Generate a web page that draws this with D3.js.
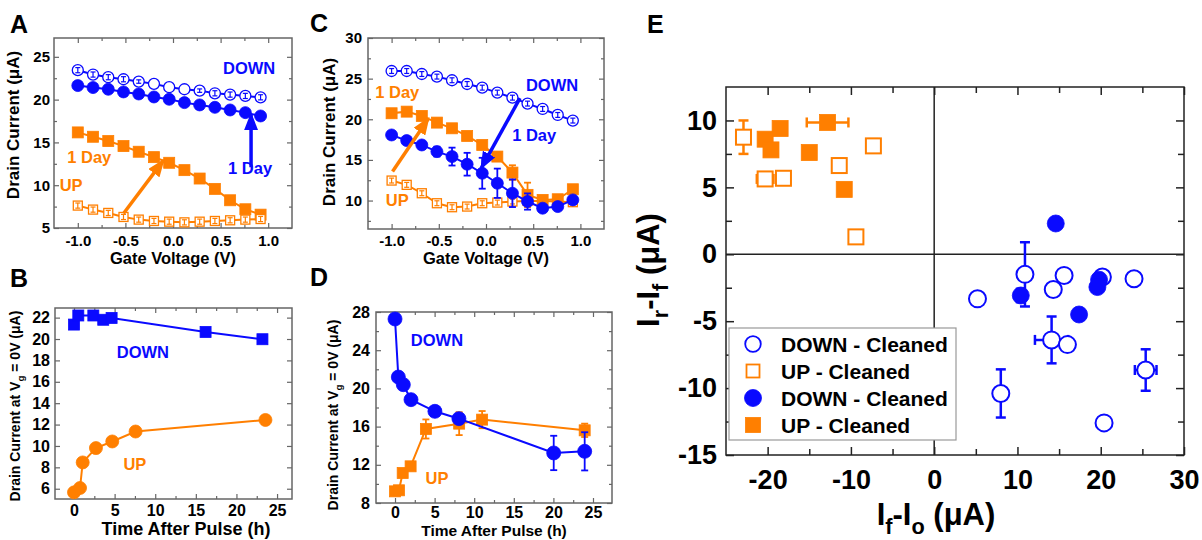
<!DOCTYPE html>
<html><head><meta charset="utf-8">
<script src="https://cdn.jsdelivr.net/npm/d3@7"></script>
<style>
body{margin:0;background:#fff}
svg{display:block}
text{font-family:"Liberation Sans",Arial,sans-serif;font-weight:bold}
</style>
</head><body>
<svg id="c" width="1202" height="540"></svg>
<script>
// ---------- DATA ----------
// Panels A and C: gate voltage sweep
const voltage = [-1, -0.84, -0.68, -0.52, -0.36, -0.2, -0.04, 0.12, 0.28, 0.44, 0.6, 0.76, 0.92];
const aDownBefore = [23.44, 22.93, 22.62, 22.38, 22.11, 21.84, 21.45, 21.21, 21.05, 20.74, 20.59, 20.43, 20.27];
const aDownBeforeErr = [0.3, 0.3, 0.3, 0.3, 0.2, 0, 0, 0, 0.2, 0.3, 0.3, 0.3, 0.3];
const aDown1Day = [21.64, 21.41, 21.21, 20.9, 20.66, 20.31, 20.04, 19.65, 19.38, 19.1, 18.79, 18.48, 18.09];
const aUp1Day = [16.17, 15.66, 15.16, 14.57, 13.91, 13.28, 12.62, 11.76, 10.78, 9.57, 8.24, 7.19, 6.56];
const aUpBefore = [7.62, 7.15, 6.76, 6.29, 5.98, 5.82, 5.74, 5.66, 5.74, 5.82, 5.9, 5.98, 6.05];
const aUpBeforeErr = [0.3, 0.3, 0.3, 0.3, 0.3, 0.3, 0.3, 0.3, 0.3, 0.3, 0.3, 0.3, 0.3];

const cDownBefore = [25.94, 25.94, 25.57, 25.25, 24.8, 24.34, 23.89, 23.28, 22.66, 21.93, 21.27, 20.53, 19.84];
const cDownBeforeErr = [0.3, 0.3, 0.3, 0.3, 0.3, 0.3, 0.3, 0.3, 0.3, 0.3, 0.3, 0.3, 0.3];
const cDown1Day = [18.07, 17.38, 16.84, 16.02, 15.41, 14.47, 13.36, 12.13, 10.9, 9.88, 9.06, 9.26, 10.08];
const cDown1DayErr = [0.3, 0.3, 0.3, 0.6, 1.1, 1.4, 1.9, 1.8, 1.7, 1.0, 0.3, 0.3, 0.3];
const cUp1Day = [20.74, 20.94, 20.41, 19.59, 18.89, 17.95, 16.84, 15.41, 13.44, 10.7, 10.08, 10.16, 11.39];
const cUp1DayErr = [0.5, 0.3, 0.3, 0.3, 0.3, 0.3, 0.4, 0.5, 0.9, 1.5, 0.3, 0.3, 0.3];
const cUpBefore = [12.46, 11.93, 10.9, 9.67, 9.18, 9.26, 9.67, 9.75, 9.88, 9.96, 9.96, 9.88, 9.8];
const cUpBeforeErr = [0.3, 0.3, 0.3, 0.3, 0.3, 0.3, 0.3, 0.3, 0.3, 0.3, 0.3, 0.3, 0.3];

// Panel B: time after pulse
const bDownHours = [0, 0.53, 2.38, 3.6, 4.63, 16.2, 23.2];
const bDown = [21.35, 22.2, 22.2, 21.8, 21.97, 20.66, 19.98];
const bUpHours = [0, 0.74, 1.07, 2.7, 4.71, 7.58, 23.57];
const bUp = [5.66, 6.07, 8.46, 9.8, 10.42, 11.35, 12.43];

// Panel D: time after pulse
const dDownHours = [0, 0.42, 1.05, 2.02, 5.04, 8.07, 20.04, 23.95];
const dDown = [27.27, 21.19, 20.39, 18.82, 17.6, 16.83, 13.24, 13.41];
const dDownErr = [0, 0, 0, 0, 0, 0.5, 1.8, 2.0];
const dUpHours = [0, 0.5, 0.97, 1.97, 3.9, 8.1, 11.0, 23.95];
const dUp = [9.22, 9.33, 11.14, 11.84, 15.75, 16.31, 16.73, 15.61];
const dUpErr = [0, 0, 0, 0, 1.0, 1.2, 0.9, 0.7];

// Panel E: If-Io vs Ir-If
const eDownOpenX = [5.2, 10.9, 15.6, 14.3, 20.2, 24, 14.1, 16, 8, 25.4, 20.4];
const eDownOpenY = [-3.33, -1.5, -1.58, -2.63, -1.7, -1.83, -6.4, -6.75, -10.4, -8.65, -12.6];
const eDownOpenXErr = [0, 0.3, 0.4, 0.3, 0.3, 0.3, 2, 0.3, 0.3, 1.3, 0.3];
const eDownOpenYErr = [0, 2.4, 0.2, 0.4, 0.2, 0.3, 1.75, 0.3, 1.8, 1.55, 0.4];
const eUpOpenX = [-22.9, -20.3, -18.1, -11.4, -7.3, -9.4];
const eUpOpenY = [8.75, 5.63, 5.68, 6.63, 8.1, 1.3];
const eUpOpenXErr = [0.4, 1.0, 0.5, 0.5, 0.3, 0.4];
const eUpOpenYErr = [1.25, 0.2, 0.3, 0.5, 0.5, 0.3];
const eDownFillX = [14.6, 10.4, 19.8, 19.6, 17.4];
const eDownFillY = [2.3, -3.08, -1.9, -2.45, -4.5];
const eDownFillXErr = [0.3, 0.3, 0.3, 0.3, 0.3];
const eDownFillYErr = [0.2, 0.5, 0.3, 0.3, 0.3];
const eUpFillX = [-20.3, -19.6, -18.5, -15, -12.8, -10.8];
const eUpFillY = [8.6, 7.8, 9.4, 7.6, 9.85, 4.85];
const eUpFillXErr = [0.3, 0.3, 0.3, 0.3, 2.5, 0.3];
const eUpFillYErr = [0.3, 0.3, 0.4, 0.3, 0.2, 0.3];
const legendLabels = ["DOWN - Cleaned", "UP - Cleaned", "DOWN - Cleaned", "UP - Cleaned"];

// Tick values
const gateTicks = [-1, -0.5, 0, 0.5, 1.0];
const gateMinor = [-0.75, -0.25, 0.25, 0.75];
const aYTicks = [5, 10, 15, 20, 25];
const aYMinor = [7.5, 12.5, 17.5, 22.5];
const cYTicks = [10, 15, 20, 25, 30];
const cYMinor = [7.5, 12.5, 17.5, 22.5, 27.5];
const hourTicks = [0, 5, 10, 15, 20, 25];
const hourMinor = [2.5, 7.5, 12.5, 17.5, 22.5];
const bYTicks = [6, 8, 10, 12, 14, 16, 18, 20, 22];
const dYTicks = [8, 12, 16, 20, 24, 28];
const dYMinor = [10, 14, 18, 22, 26];
const eXTicks = [-20, -10, 0, 10, 20, 30];
const eXMinor = [-15, -5, 5, 15, 25];
const eYTicks = [-15, -10, -5, 0, 5, 10];
const eYMinor = [-12.5, -7.5, -2.5, 2.5, 7.5];

// ---------- DRAWING ----------
const BLUE = "#0a0aff", ORANGE = "#ff7f00";
const svg = d3.select("#c");

const defs = svg.append("defs");
[["arB", BLUE], ["arO", ORANGE]].forEach(([id, c]) => {
  defs.append("marker").attr("id", id).attr("viewBox", "0 0 18 14")
    .attr("markerUnits", "userSpaceOnUse").attr("markerWidth", 18).attr("markerHeight", 14)
    .attr("refX", 16).attr("refY", 7).attr("orient", "auto")
    .append("path").attr("d", "M0,0 L18,7 L0,14 z").attr("fill", c);
});

function panel(o) {
  const x = d3.scaleLinear().domain(o.xd).range([o.left, o.right]);
  const y = d3.scaleLinear().domain(o.yd).range([o.bottom, o.top]);
  const g = svg.append("g");
  const add = (gen, tx, ty) => {
    const a = g.append("g").attr("transform", `translate(${tx},${ty})`).call(gen);
    a.select(".domain").remove();
    a.attr("font-family", null).attr("font-size", null);
    a.selectAll("line").attr("stroke", o.frame).attr("stroke-width", o.tw);
    a.selectAll("text").attr("fill", "#000").style("font-size", o.tf + "px");
    return a;
  };
  const none = () => "";
  add(d3.axisBottom(x).tickValues(o.xMajor).tickSize(-o.tl).tickPadding(o.xPad).tickFormat(o.fx), 0, o.bottom);
  add(d3.axisBottom(x).tickValues(o.xMinor).tickSize(-o.tlm).tickFormat(none), 0, o.bottom);
  add(d3.axisTop(x).tickValues(o.xMajor).tickSize(-o.tl).tickFormat(none), 0, o.top);
  add(d3.axisTop(x).tickValues(o.xMinor).tickSize(-o.tlm).tickFormat(none), 0, o.top);
  add(d3.axisLeft(y).tickValues(o.yMajor).tickSize(-o.tl).tickPadding(o.yPad).tickFormat(o.fy), o.left, 0);
  add(d3.axisLeft(y).tickValues(o.yMinor).tickSize(-o.tlm).tickFormat(none), o.left, 0);
  add(d3.axisRight(y).tickValues(o.yMajor).tickSize(-o.tl).tickFormat(none), o.right, 0);
  add(d3.axisRight(y).tickValues(o.yMinor).tickSize(-o.tlm).tickFormat(none), o.right, 0);
  g.append("rect").attr("x", o.left).attr("y", o.top).attr("width", o.right - o.left)
    .attr("height", o.bottom - o.top).attr("fill", "none").attr("stroke", o.frame).attr("stroke-width", o.fw);
  return { g, x, y };
}

function series(p, xs, ys, o) {
  const pts = xs.map((v, i) => ({ x: v, y: ys[i], ye: o.yErr ? o.yErr[i] : 0, xe: o.xErr ? o.xErr[i] : 0 }));
  if (o.line) {
    p.g.append("path").datum(pts)
      .attr("d", d3.line().x(d => p.x(d.x)).y(d => p.y(d.y)))
      .attr("fill", "none").attr("stroke", o.color).attr("stroke-width", o.lw);
  }
  const drawErr = () => {
    const eg = p.g.append("g").attr("stroke", o.color).attr("stroke-width", o.ew);
    pts.forEach(d => {
      const cx = p.x(d.x), cy = p.y(d.y);
      if (d.ye > 0) {
        const y1 = p.y(d.y - d.ye), y2 = p.y(d.y + d.ye);
        eg.append("line").attr("x1", cx).attr("x2", cx).attr("y1", y1).attr("y2", y2);
        eg.append("line").attr("x1", cx - o.cap).attr("x2", cx + o.cap).attr("y1", y1).attr("y2", y1);
        eg.append("line").attr("x1", cx - o.cap).attr("x2", cx + o.cap).attr("y1", y2).attr("y2", y2);
      }
      if (d.xe > 0) {
        const x1 = p.x(d.x - d.xe), x2 = p.x(d.x + d.xe);
        eg.append("line").attr("x1", x1).attr("x2", x2).attr("y1", cy).attr("y2", cy);
        eg.append("line").attr("x1", x1).attr("x2", x1).attr("y1", cy - o.cap).attr("y2", cy + o.cap);
        eg.append("line").attr("x1", x2).attr("x2", x2).attr("y1", cy - o.cap).attr("y2", cy + o.cap);
      }
    });
  };
  if (!o.errTop) drawErr();
  const mg = p.g.append("g");
  const fill = o.filled ? o.color : "#fff";
  if (o.shape === "circle") {
    mg.selectAll("circle").data(pts).join("circle")
      .attr("cx", d => p.x(d.x)).attr("cy", d => p.y(d.y)).attr("r", o.size)
      .attr("fill", fill).attr("stroke", o.color).attr("stroke-width", o.filled ? 0.8 : o.sw);
  } else {
    mg.selectAll("rect").data(pts).join("rect")
      .attr("x", d => p.x(d.x) - o.size).attr("y", d => p.y(d.y) - o.size)
      .attr("width", 2 * o.size).attr("height", 2 * o.size)
      .attr("fill", fill).attr("stroke", o.color).attr("stroke-width", o.filled ? 0.8 : o.sw);
  }
  if (o.errTop) drawErr();
}

function label(p, x, y, txt, color, size) {
  p.g.append("text").attr("x", p.x(x)).attr("y", p.y(y)).attr("dy", "0.35em")
    .attr("text-anchor", "middle").attr("fill", color).style("font-size", size + "px").text(txt);
}
function arrow(p, x1, y1, x2, y2, color, id) {
  p.g.append("line").attr("x1", p.x(x1)).attr("y1", p.y(y1)).attr("x2", p.x(x2)).attr("y2", p.y(y2))
    .attr("stroke", color).attr("stroke-width", 3.5).attr("marker-end", `url(#${id})`);
}
function richText(parent, parts, size) {
  const t = parent;
  let shifted = false;
  parts.forEach(([s, sub]) => {
    const ts = t.append("tspan").text(s);
    if (sub && !shifted) { ts.attr("dy", size * 0.28).style("font-size", (size * 0.7) + "px"); shifted = true; }
    else if (!sub && shifted) { ts.attr("dy", -size * 0.28); shifted = false; }
  });
}
function title(x, y, parts, size, rot) {
  const t = svg.append("text").attr("text-anchor", "middle").style("font-size", size + "px")
    .attr("transform", `translate(${x},${y})${rot ? " rotate(-90)" : ""}`).attr("fill", "#000");
  richText(t, parts, size);
}
function letter(x, y, s) {
  svg.append("text").attr("x", x).attr("y", y).style("font-size", "25px").attr("fill", "#000").text(s);
}

const fmt1 = d => d.toFixed(1);
const fmt0 = d => String(d);
const small = { frame: "#666", fw: 1.5, tw: 1.2, tl: 5, tlm: 3, tf: 15 };

// ----- Panel A -----
const A = panel(Object.assign({}, small, { left: 54, right: 292, top: 38, bottom: 228, xd: [-1.25, 1.25], yd: [5, 27.2],
  xMajor: gateTicks, xMinor: gateMinor, yMajor: aYTicks, yMinor: aYMinor, fx: fmt1, fy: fmt0, xPad: 7, yPad: 4 }));
series(A, voltage, aDownBefore, { color: BLUE, shape: "circle", filled: false, size: 5.5, sw: 1.3, line: true, lw: 2, yErr: aDownBeforeErr, ew: 1.2, cap: 2.5, errTop: true });
series(A, voltage, aDown1Day, { color: BLUE, shape: "circle", filled: true, size: 6, line: true, lw: 2 });
series(A, voltage, aUp1Day, { color: ORANGE, shape: "square", filled: true, size: 5.5, line: true, lw: 2 });
series(A, voltage, aUpBefore, { color: ORANGE, shape: "square", filled: false, size: 4.5, sw: 1.3, line: true, lw: 2, yErr: aUpBeforeErr, ew: 1.2, cap: 2.5, errTop: true });
arrow(A, -0.52, 6.7, -0.1, 12.9, ORANGE, "arO");
arrow(A, 0.82, 12.1, 0.82, 18.3, BLUE, "arB");
label(A, 0.8, 23.7, "DOWN", BLUE, 16.5);
label(A, -0.88, 13.3, "1 Day", ORANGE, 16.5);
label(A, -1.07, 10.0, "UP", ORANGE, 16.5);
label(A, 0.81, 12.0, "1 Day", BLUE, 16.5);
title(173, 264, [["Gate Voltage (V)"]], 16.5, false);
title(19, 125, [["Drain Current (μA)"]], 17, true);

// ----- Panel C -----
const C = panel(Object.assign({}, small, { left: 368, right: 604, top: 38, bottom: 229, xd: [-1.25, 1.25], yd: [6.5, 30],
  xMajor: gateTicks, xMinor: gateMinor, yMajor: cYTicks, yMinor: cYMinor, fx: fmt1, fy: fmt0, xPad: 6, yPad: 6 }));
series(C, voltage, cDownBefore, { color: BLUE, shape: "circle", filled: false, size: 5.5, sw: 1.3, line: true, lw: 2, yErr: cDownBeforeErr, ew: 1.2, cap: 2.5, errTop: true });
series(C, voltage, cUpBefore, { color: ORANGE, shape: "square", filled: false, size: 4.5, sw: 1.3, line: true, lw: 2, yErr: cUpBeforeErr, ew: 1.2, cap: 2.5, errTop: true });
series(C, voltage, cUp1Day, { color: ORANGE, shape: "square", filled: true, size: 5.5, line: true, lw: 2, yErr: cUp1DayErr, ew: 1.8, cap: 3.5 });
series(C, voltage, cDown1Day, { color: BLUE, shape: "circle", filled: true, size: 6, line: true, lw: 2, yErr: cDown1DayErr, ew: 1.8, cap: 3.5 });
arrow(C, -0.99, 13.57, -0.61, 20.1, ORANGE, "arO");
arrow(C, 0.36, 22.6, -0.05, 14.0, BLUE, "arB");
label(C, -0.94, 23.3, "1 Day", ORANGE, 16.5);
label(C, 0.70, 24.2, "DOWN", BLUE, 16.5);
label(C, 0.51, 18.05, "1 Day", BLUE, 16.5);
label(C, -0.94, 10.06, "UP", ORANGE, 16.5);
title(486, 264, [["Gate Voltage (V)"]], 16.5, false);
title(335, 132, [["Drain Current (μA)"]], 17, true);

// ----- Panel B -----
const B = panel(Object.assign({}, small, { left: 55, right: 292, top: 308, bottom: 499, xd: [-2.34, 26.84], yd: [5.04, 22.9],
  xMajor: hourTicks, xMinor: hourMinor, yMajor: bYTicks, yMinor: [], fx: fmt0, fy: fmt0, xPad: 6, yPad: 5, tf: 16 }));
series(B, bDownHours, bDown, { color: BLUE, shape: "square", filled: true, size: 5.5, line: true, lw: 2 });
series(B, bUpHours, bUp, { color: ORANGE, shape: "circle", filled: true, size: 6.5, line: true, lw: 2 });
label(B, 8.48, 18.74, "DOWN", BLUE, 16.5);
label(B, 7.5, 8.3, "UP", ORANGE, 16.5);
title(186, 535, [["Time After Pulse (h)"]], 18, false);
title(20, 406, [["Drain Current at V"], ["g", true], [" = 0V (μA)"]], 14, true);

// ----- Panel D -----
const D = panel(Object.assign({}, small, { left: 376, right: 612, top: 312, bottom: 503, xd: [-2.4, 27.4], yd: [8, 28],
  xMajor: hourTicks, xMinor: hourMinor, yMajor: dYTicks, yMinor: dYMinor, fx: fmt0, fy: fmt0, xPad: 4, yPad: 6, tf: 16 }));
series(D, dUpHours, dUp, { color: ORANGE, shape: "square", filled: true, size: 5.5, line: true, lw: 2, yErr: dUpErr, ew: 1.8, cap: 3.5 });
series(D, dDownHours, dDown, { color: BLUE, shape: "circle", filled: true, size: 7, line: true, lw: 2, yErr: dDownErr, ew: 1.8, cap: 3.5 });
label(D, 5.3, 25.07, "DOWN", BLUE, 16.5);
label(D, 5.3, 10.6, "UP", ORANGE, 16.5);
title(494, 536, [["Time After Pulse (h)"]], 15.5, false);
title(338, 415, [["Drain Current at V"], ["g", true], [" = 0V (μA)"]], 14, true);

// ----- Panel E -----
const E = panel({ frame: "#222", fw: 1.5, tw: 1.5, tl: 8, tlm: 6, tf: 27,
  left: 726, right: 1184, top: 87, bottom: 455, xd: [-25, 30], yd: [-15, 12.5],
  xMajor: eXTicks, xMinor: eXMinor, yMajor: eYTicks, yMinor: eYMinor, fx: fmt0, fy: fmt0, xPad: 15, yPad: 9 });
E.g.append("line").attr("x1", E.x(0)).attr("x2", E.x(0)).attr("y1", E.y(12.5)).attr("y2", E.y(-15)).attr("stroke", "#222").attr("stroke-width", 1.5);
E.g.append("line").attr("x1", E.x(-25)).attr("x2", E.x(30)).attr("y1", E.y(0)).attr("y2", E.y(0)).attr("stroke", "#222").attr("stroke-width", 1.5);
const eOpen = { filled: false, sw: 2, ew: 2.5, cap: 5 };
series(E, eUpOpenX, eUpOpenY, Object.assign({ color: ORANGE, shape: "square", size: 7.5, xErr: eUpOpenXErr, yErr: eUpOpenYErr }, eOpen));
series(E, eDownOpenX, eDownOpenY, Object.assign({ color: BLUE, shape: "circle", size: 8.5, xErr: eDownOpenXErr, yErr: eDownOpenYErr }, eOpen));
series(E, eUpFillX, eUpFillY, { color: ORANGE, shape: "square", filled: true, size: 8, xErr: eUpFillXErr, yErr: eUpFillYErr, ew: 2.5, cap: 5 });
series(E, eDownFillX, eDownFillY, { color: BLUE, shape: "circle", filled: true, size: 8.5, xErr: eDownFillXErr, yErr: eDownFillYErr, ew: 2.5, cap: 5 });
title(936, 525, [["I"], ["f", true], ["-I"], ["o", true], [" (μA)"]], 31, false);
title(659, 270, [["I"], ["r", true], ["-I"], ["f", true], [" (μA)"]], 31, true);

// legend
const lg = svg.append("g");
lg.append("rect").attr("x", 729).attr("y", 328).attr("width", 227).attr("height", 112)
  .attr("fill", "#fff").attr("stroke", "#999").attr("stroke-width", 1.2);
const legendItems = legendLabels.map((s, i) => ({ label: s, shape: i % 2 === 0 ? "circle" : "square", filled: i >= 2, color: i % 2 === 0 ? BLUE : ORANGE }));
legendItems.forEach((d, i) => {
  const cy = 344 + i * 27;
  if (d.shape === "circle") {
    lg.append("circle").attr("cx", 753).attr("cy", cy).attr("r", d.filled ? 8.5 : 7.8)
      .attr("fill", d.filled ? d.color : "#fff").attr("stroke", d.color).attr("stroke-width", d.filled ? 0.8 : 1.8);
  } else {
    const h = d.filled ? 7.5 : 6.5;
    lg.append("rect").attr("x", 753 - h).attr("y", cy - h).attr("width", 2 * h).attr("height", 2 * h)
      .attr("fill", d.filled ? d.color : "#fff").attr("stroke", d.color).attr("stroke-width", d.filled ? 0.8 : 1.8);
  }
  lg.append("text").attr("x", 781).attr("y", cy).attr("dy", "0.36em").style("font-size", "21px").attr("fill", "#000").text(d.label);
});

// panel letters
letter(10, 33, "A");
letter(10, 287, "B");
letter(310, 32, "C");
letter(310, 286, "D");
letter(647, 33, "E");
</script>
</body></html>
